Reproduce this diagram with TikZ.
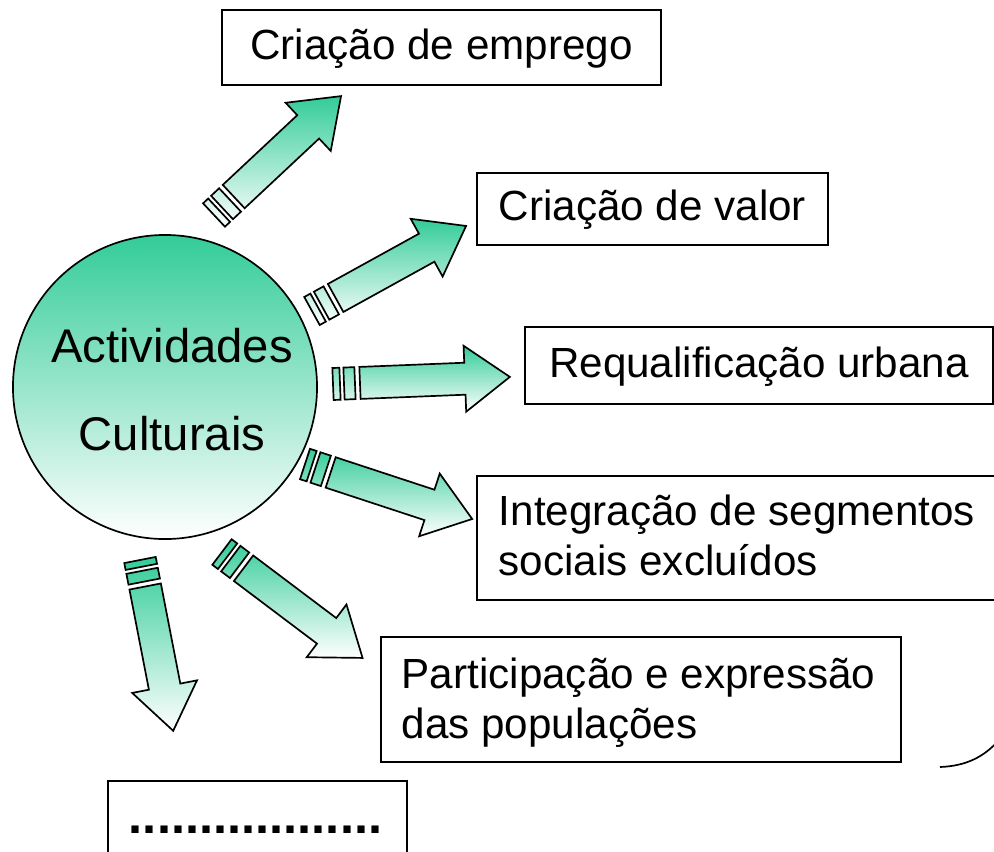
\documentclass[tikz,border=0pt]{standalone}
\usepackage{fontspec}
\setmainfont{Liberation Sans}

\definecolor{arrowgreen}{RGB}{51,204,153}

\tikzset{
  ball/.style={circle, draw, line width=1.2pt, top color=arrowgreen, bottom color=white, minimum size=7.6cm, inner sep=0pt},
  bigtext/.style={font=\fontsize{33.6}{61.9}\selectfont, align=center, inner sep=0pt},
  boxtext/.style={font=\fontsize{30}{35.4}\selectfont, inner sep=0pt},
  arrowshade/.style={draw, line width=1.2pt, top color=arrowgreen, bottom color=white},
}

% striped arrow: tail point, angle, length
\newcommand\stripedarrow[3]{%
  \begin{scope}[shift={#1}, rotate=#2]
    \shade[arrowshade] (0,-16) rectangle (7,16) (11,-16) rectangle (22,16)
      (27,-16) -- ({#3-45},-16) -- ({#3-45},-33) -- (#3,0) -- ({#3-45},33) -- ({#3-45},16) -- (27,16) -- cycle;
  \end{scope}}

\begin{document}
\begin{tikzpicture}[x=0.025cm, y=-0.025cm, line width=1.2pt]
        \useasboundingbox (0,0) rectangle (994,851);
        \clip (0,0) rectangle (994,851);

        % Central circle
        \node[ball] (circ) at (165,387) {};
        \node[bigtext, anchor=base] (actcult) at (172,450) {Actividades\\Culturais};

        % Boxes
        \draw (222,10) rectangle (661,85);
        \node[boxtext] (emprego) at (441.5,49) {Criação de emprego};

        \draw (477,173) rectangle (828,245);
        \node[boxtext] (valor) at (652.5,210) {Criação de valor};

        \draw (525,327) rectangle (993,404);
        \node[boxtext] (requal) at (759,367) {Requalificação urbana};

        \draw (477,476) rectangle (1010,600);
        \node[boxtext, align=left, anchor=base west] (integr) at (498,575) {Integração de segmentos\\sociais excluídos};

        \draw (381,637) rectangle (901,762);
        \node[boxtext, align=left, anchor=base west] (partic) at (401,738) {Participação e expressão\\das populações};

        \draw (108,781) rectangle (407,880);
        \node[font=\fontsize{36}{40}\selectfont\bfseries, inner sep=0pt, anchor=base] (dots) at (255.5,833) {..................};

        % Striped arrows
        \stripedarrow{(214,215)}{43.1}{174}
        \stripedarrow{(312,311)}{28.9}{176}
        \stripedarrow{(333,384)}{2.3}{177}
        \stripedarrow{(305,464)}{-18.2}{176}
        \stripedarrow{(222,552)}{-37}{176}
        \stripedarrow{(140,560)}{-79}{174}

        % Cut-off shape at the right edge
        \draw (940,767) .. controls (966,766) and (984,757) .. (999,740);
\end{tikzpicture}
\end{document}
